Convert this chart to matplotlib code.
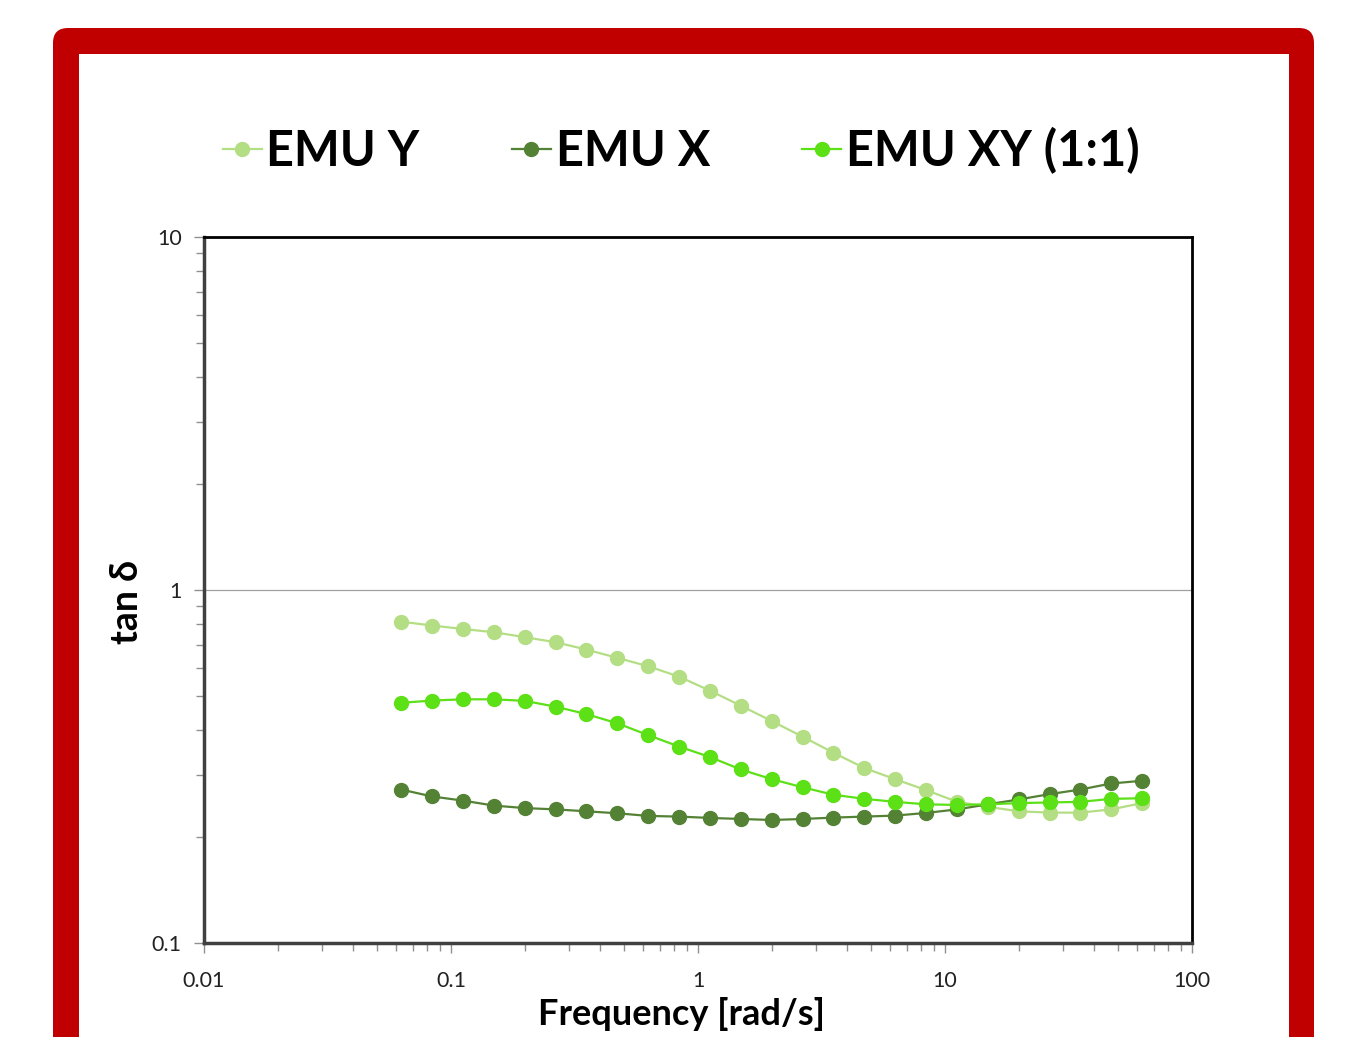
import numpy as np
import matplotlib
matplotlib.use('Agg')
import matplotlib.pyplot as plt
from matplotlib.patches import FancyBboxPatch, Rectangle
from matplotlib.ticker import LogLocator, FixedLocator, FixedFormatter, NullFormatter

# Frequency sweep [rad/s]
freq = [0.0628, 0.0838, 0.112, 0.149, 0.199, 0.265, 0.353, 0.471, 0.628, 0.838,
        1.12, 1.49, 1.99, 2.65, 3.53, 4.71, 6.28, 8.38, 11.2, 14.9,
        19.9, 26.5, 35.3, 47.1, 62.8]

# tan delta values
emu_y = [0.813, 0.793, 0.775, 0.759, 0.735, 0.711, 0.678, 0.642, 0.608, 0.568,
         0.518, 0.470, 0.425, 0.384, 0.346, 0.313, 0.291, 0.271, 0.251, 0.243,
         0.236, 0.234, 0.234, 0.239, 0.249]
emu_x = [0.272, 0.260, 0.253, 0.245, 0.241, 0.239, 0.236, 0.233, 0.229, 0.228,
         0.226, 0.2245, 0.223, 0.2245, 0.2265, 0.228, 0.2295, 0.2335, 0.239, 0.247,
         0.255, 0.264, 0.272, 0.283, 0.288]
emu_xy = [0.479, 0.486, 0.490, 0.490, 0.485, 0.467, 0.445, 0.419, 0.388, 0.360,
          0.336, 0.310, 0.291, 0.276, 0.263, 0.256, 0.251, 0.247, 0.246, 0.247,
          0.249, 0.250, 0.251, 0.256, 0.257]

series = [('EMU Y', emu_y, '#b4de84'),
          ('EMU X', emu_x, '#548235'),
          ('EMU XY (1:1)', emu_xy, '#5ce016')]

plt.rcParams['font.family'] = ['Lato', 'DejaVu Sans']

fig = plt.figure(figsize=(13.54, 10.37), dpi=100)

# red frame behind the chart
frame = FancyBboxPatch((0.53, -0.5), 12.61, 10.59,
                       boxstyle='round,pad=0,rounding_size=0.15',
                       transform=fig.dpi_scale_trans, facecolor='#c00000',
                       edgecolor='none', zorder=-5)
inner = Rectangle((0.79, -0.5), 12.10, 10.33, transform=fig.dpi_scale_trans,
                  facecolor='white', edgecolor='none', zorder=-4)
fig.patches.extend([frame, inner])

ax = fig.add_axes([0.1507, 0.0907, 0.7297, 0.6808])
ax.set_zorder(1)

for name, vals, col in series:
    ax.plot(freq, vals, '-o', color=col, lw=1.6, ms=10, label=name)

ax.set_xscale('log')
ax.set_yscale('log')
ax.set_xlim(0.01, 100)
ax.set_ylim(0.1, 10)

ax.xaxis.set_major_locator(FixedLocator([0.01, 0.1, 1, 10, 100]))
ax.xaxis.set_major_formatter(FixedFormatter(['0.01', '0.1', '1', '10', '100']))
ax.yaxis.set_major_locator(FixedLocator([0.1, 1, 10]))
ax.yaxis.set_major_formatter(FixedFormatter(['0.1', '1', '10']))
ax.xaxis.set_minor_locator(LogLocator(base=10, subs=np.arange(2, 10)))
ax.yaxis.set_minor_locator(LogLocator(base=10, subs=np.arange(2, 10)))
ax.xaxis.set_minor_formatter(NullFormatter())
ax.yaxis.set_minor_formatter(NullFormatter())

ax.tick_params(which='both', direction='out', color='#909090', labelsize=15.5,
               labelcolor='#222222')
ax.tick_params(which='major', length=7, width=1)
ax.tick_params(which='minor', length=6, width=1)
ax.tick_params(axis='x', pad=13)
ax.tick_params(axis='y', pad=9)

ax.yaxis.grid(True, which='major', color='#a0a0a0', lw=0.9)
ax.set_axisbelow(True)

for s in ['top', 'right']:
    ax.spines[s].set_color('black')
    ax.spines[s].set_linewidth(2)
for s in ['left', 'bottom']:
    ax.spines[s].set_color('#404040')
    ax.spines[s].set_linewidth(2.5)

ax.set_xlabel('Frequency [rad/s]', fontsize=26, fontweight='bold')
ax.xaxis.set_label_coords(0.483, -0.076)
ax.set_ylabel('tan δ', fontsize=27, fontweight='bold')
ax.yaxis.set_label_coords(-0.061, 0.483)

leg = ax.legend(loc='center', bbox_to_anchor=(0.483, 1.123), ncol=3,
                frameon=False, prop={'weight': 'bold', 'size': 35},
                handlelength=0.8, handletextpad=0.1, columnspacing=1.9,
                markerscale=1.0)

fig.savefig('out.png', dpi=100)
